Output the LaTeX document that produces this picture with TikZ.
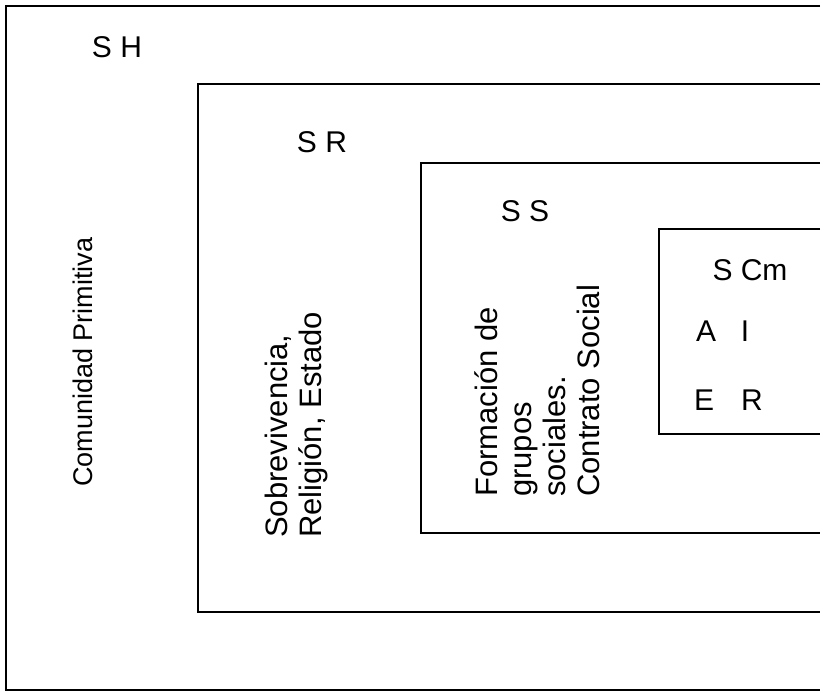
\documentclass[tikz,border=0pt]{standalone}
\usepackage{fontspec}
\setmainfont{Liberation Sans}
\usetikzlibrary{positioning}
\begin{document}
\begin{tikzpicture}[x=1pt,y=-1pt]
\tikzset{box/.style={line width=1.6pt},lbl/.style={inner sep=0pt,font=\fontsize{30}{34}\selectfont},side/.style={inner sep=0pt,rotate=90,anchor=west,align=left,font=\fontsize{31}{34}\selectfont}}
\useasboundingbox (0,0) rectangle (828,693);
% nested boxes, open on the right
\draw[box] (820,6) -- (6,6) -- (6,690) -- (820,690);
\draw[box] (820,84) -- (198,84) -- (198,612) -- (820,612);
\draw[box] (820,163) -- (421,163) -- (421,533) -- (820,533);
\draw[box] (820,229) -- (659,229) -- (659,434) -- (820,434);
% levels
\node[lbl] (sh) at (117,47) {S H};
\node[lbl] (sr) at (322,142) {S R};
\node[lbl] (ss) at (525,211) {S S};
\node[lbl] (scm) at (750,270) {S Cm};
\node[lbl] (a) at (706,331) {A};
\node[lbl] (i) at (745,331) {I};
\node[lbl] (e) at (704,400) {E};
\node[lbl] (r) at (752,400) {R};
% side texts
\node[lbl,rotate=90,font=\fontsize{27}{32}\selectfont] (comunidad) at (83,362) {Comunidad Primitiva};
\node[side] (sobrev) at (296,538) {Sobrevivencia,\\Religión, Estado};
\node[side] (formacion) at (537,497) {Formación de\\grupos\\sociales.\\Contrato Social};
\end{tikzpicture}
\end{document}
